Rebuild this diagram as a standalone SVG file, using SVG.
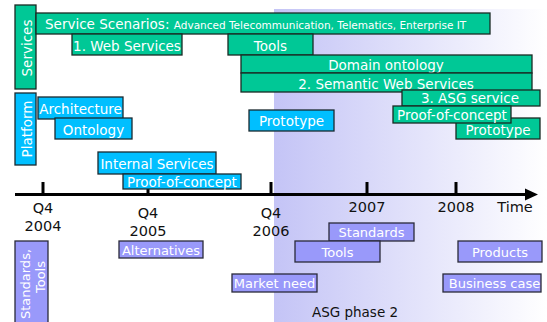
<svg xmlns="http://www.w3.org/2000/svg" width="547" height="322" viewBox="0 0 547 322">
<defs>
<linearGradient id="phase" x1="0" y1="0" x2="1" y2="0">
<stop offset="0" stop-color="#c4c4f6"/>
<stop offset="1" stop-color="#ffffff"/>
</linearGradient>
<style>
text{font-family:"DejaVu Sans",Verdana,sans-serif;}
.g rect{fill:#00c896;stroke:#1a2a24;stroke-width:1.3;}
.b rect{fill:#00bfff;stroke:#1a2a30;stroke-width:1.3;}
.p rect{fill:#9999fa;stroke:#2a2a3a;stroke-width:1.3;}
.g text,.b text{fill:#ffffff;font-size:13.5px;text-anchor:middle;}
.p text{fill:#ffffff;font-size:13px;text-anchor:middle;}
.tl{fill:#111;font-size:14.5px;text-anchor:middle;}
.tick{stroke:#000;stroke-width:3;}
</style>
</defs>
<rect x="274" y="9" width="273" height="313" fill="url(#phase)"/>
<text x="355" y="317" style="font-size:13.5px;fill:#111;text-anchor:middle">ASG phase 2</text>

<g id="connectors">
<line x1="15" y1="194.5" x2="528" y2="194.5" stroke="#000" stroke-width="3"/>
<polygon points="525,188.5 538,194.5 525,200.5" fill="#000"/>
<line class="tick" x1="43" y1="182" x2="43" y2="194"/>
<line class="tick" x1="148" y1="182" x2="148" y2="194"/>
<line class="tick" x1="271" y1="182" x2="271" y2="194"/>
<line class="tick" x1="367" y1="182" x2="367" y2="194"/>
<line class="tick" x1="456" y1="182" x2="456" y2="194"/>
</g>

<g id="timeline-labels">
<text class="tl" x="43" y="213">Q4</text>
<text class="tl" x="43" y="231">2004</text>
<text class="tl" x="148" y="218">Q4</text>
<text class="tl" x="148" y="236">2005</text>
<text class="tl" x="271" y="218">Q4</text>
<text class="tl" x="271" y="236">2006</text>
<text class="tl" x="367" y="212">2007</text>
<text class="tl" x="456" y="212">2008</text>
<text class="tl" x="515" y="212">Time</text>
</g>

<g id="services" class="g">
<rect x="15" y="5" width="21" height="84"/>
<text transform="translate(31.5,48) rotate(-90)">Services</text>
</g>
<g id="service-scenarios" class="g">
<rect x="36" y="13" width="454" height="21"/>
<text x="45" y="29" style="text-anchor:start">Service Scenarios: <tspan style="font-size:10.5px">Advanced Telecommunication, Telematics, Enterprise IT</tspan></text>
</g>
<g id="web-services" class="g">
<rect x="72" y="34" width="110" height="21"/>
<text x="127" y="50.5">1. Web Services</text>
</g>
<g id="tools-green" class="g">
<rect x="228" y="34" width="85" height="21"/>
<text x="270.5" y="50.5">Tools</text>
</g>
<g id="domain-ontology" class="g">
<rect x="241" y="55" width="291" height="18"/>
<text x="386" y="69.5">Domain ontology</text>
</g>
<g id="semantic-web-services" class="g">
<rect x="241" y="73" width="291" height="19"/>
<text x="386" y="88.5">2. Semantic Web Services</text>
</g>
<g id="asg-service" class="g">
<rect x="402" y="90" width="138" height="16"/>
<text x="470" y="103">3. ASG service</text>
</g>
<g id="prototype-green" class="g">
<rect x="456" y="118" width="84" height="21"/>
<text x="498" y="134.5">Prototype</text>
</g>
<g id="poc-green" class="g">
<rect x="393" y="106" width="118" height="17"/>
<text x="452" y="120">Proof-of-concept</text>
</g>

<g id="platform" class="b">
<rect x="15" y="93" width="21" height="72"/>
<text transform="translate(31.5,129) rotate(-90)">Platform</text>
</g>
<g id="architecture" class="b">
<rect x="38" y="97" width="85" height="22"/>
<text x="80.5" y="113.5">Architecture</text>
</g>
<g id="ontology" class="b">
<rect x="55" y="118" width="77" height="21"/>
<text x="93.5" y="134.5">Ontology</text>
</g>
<g id="prototype-blue" class="b">
<rect x="249" y="110" width="85" height="21"/>
<text x="291.5" y="125.5">Prototype</text>
</g>
<g id="internal-services" class="b">
<rect x="98" y="152" width="118" height="22"/>
<text x="157" y="168.5">Internal Services</text>
</g>
<g id="poc-blue" class="b">
<rect x="123" y="174" width="118" height="15"/>
<text x="182" y="186.5">Proof-of-concept</text>
</g>

<g id="standards-tools" class="p">
<rect x="15" y="241" width="33" height="85"/>
<text transform="translate(29.5,284) rotate(-90)">Standards,</text>
<text transform="translate(45,277) rotate(-90)">Tools</text>
</g>
<g id="alternatives" class="p">
<rect x="119" y="241" width="84" height="17"/>
<text x="161" y="254.5">Alternatives</text>
</g>
<g id="market-need" class="p">
<rect x="232" y="274" width="85" height="18"/>
<text x="274.5" y="288">Market need</text>
</g>
<g id="standards" class="p">
<rect x="329" y="223" width="85" height="18"/>
<text x="371.5" y="237">Standards</text>
</g>
<g id="tools-purple" class="p">
<rect x="295" y="241" width="85" height="21"/>
<text x="337.5" y="257">Tools</text>
</g>
<g id="products" class="p">
<rect x="458" y="241" width="84" height="21"/>
<text x="500" y="257">Products</text>
</g>
<g id="business-case" class="p">
<rect x="443" y="274" width="98" height="18"/>
<text x="494.5" y="288">Business case</text>
</g>
</svg>
